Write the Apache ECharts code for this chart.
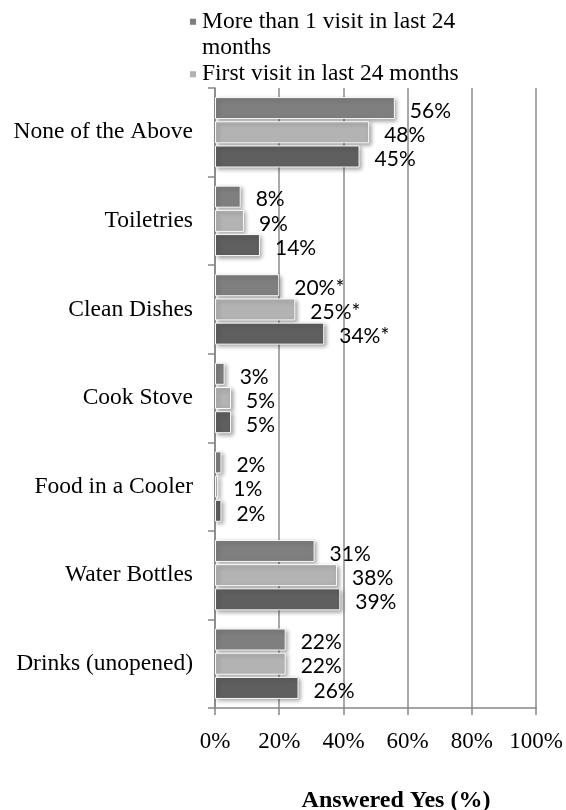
<!DOCTYPE html>
<html>
<head>
<meta charset="utf-8">
<script src="https://cdn.jsdelivr.net/npm/echarts@6/dist/echarts.min.js"></script>
<style>
html,body{margin:0;padding:0;background:#fff;}
#chart{width:566px;height:810px;}
</style>
</head>
<body>
<div id="chart"></div>
<script>
var categories = ['None of the Above', 'Toiletries', 'Clean Dishes', 'Cook Stove', 'Food in a Cooler', 'Water Bottles', 'Drinks (unopened)'];
var seriesNames = ['More than 1 visit in last 24 months', 'First visit in last 24 months', 'All visitors'];
var moreThanOnce = [56, 8, 20, 3, 2, 31, 22];
var firstVisit = [48, 9, 25, 5, 1, 38, 22];
var allVisitors = [45, 14, 34, 5, 2, 39, 26];
var starred = ['Clean Dishes'];
var xTicks = [0, 20, 40, 60, 80, 100];
var axisTitle = 'Answered Yes (%)';
var colors = ['#7f7f7f', '#b3b3b3', '#5f5f5f'];

var serif = '"Liberation Serif", "Times New Roman", serif';

function makeSeries(name, data, color) {
  return {
    name: name,
    type: 'bar',
    data: data,
    barWidth: 22,
    barGap: '10%',
    itemStyle: {
      color: color,
      borderColor: 'rgba(255,255,255,0.95)',
      borderWidth: 1,
      shadowColor: 'rgba(0,0,0,0.35)',
      shadowBlur: 4,
      shadowOffsetX: 2,
      shadowOffsetY: 2
    },
    label: {
      show: true,
      position: 'right',
      distance: 15,
      offset: [0, 3],
      fontFamily: 'Lato, "Open Sans", sans-serif',
      fontSize: 21,
      color: '#000',
      formatter: function (p) {
        return p.value + '%' + (starred.indexOf(p.name) >= 0 ? '*' : '');
      }
    }
  };
}

var chart = echarts.init(document.getElementById('chart'), null, {renderer: 'canvas'});
chart.setOption({
  animation: false,
  backgroundColor: '#fff',
  color: colors,
  grid: {left: 215, right: 29, top: 88, bottom: 102, containLabel: false},
  legend: [
    {
      data: [seriesNames[0]],
      left: 188,
      top: -18,
      padding: 0,
      icon: 'rect',
      itemWidth: 8,
      itemHeight: 8,
      formatter: function () { return '\nMore than 1 visit in last 24\nmonths'; },
      textStyle: {fontFamily: serif, fontSize: 23.5, lineHeight: 26.5, color: '#000'}
    },
    {
      data: [seriesNames[1]],
      left: 188,
      top: 61,
      padding: 0,
      icon: 'rect',
      itemWidth: 8,
      itemHeight: 8,
      textStyle: {fontFamily: serif, fontSize: 23.5, lineHeight: 26.5, color: '#000'}
    }
  ],
  xAxis: {
    type: 'value',
    min: xTicks[0],
    max: xTicks[xTicks.length - 1],
    interval: 20,
    axisLine: {show: true, lineStyle: {color: '#868686', width: 1.5}},
    axisTick: {show: true, length: 7, lineStyle: {color: '#868686', width: 1.5}},
    splitLine: {show: true, lineStyle: {color: '#8c8c8c', width: 1.5}},
    axisLabel: {
      margin: 22,
      fontFamily: serif,
      fontSize: 23,
      color: '#000',
      formatter: '{value}%'
    }
  },
  yAxis: {
    type: 'category',
    data: categories,
    inverse: true,
    axisLine: {show: true, lineStyle: {color: '#868686', width: 1.5}},
    axisTick: {show: true, length: 7, lineStyle: {color: '#868686', width: 1.5}},
    splitLine: {show: false},
    axisLabel: {
      margin: 22,
      fontFamily: serif,
      fontSize: 23.5,
      color: '#000'
    }
  },
  graphic: [{
    type: 'text',
    x: 396,
    y: 801,
    style: {
      text: axisTitle,
      textAlign: 'center',
      textVerticalAlign: 'middle',
      font: 'bold 24px ' + serif,
      fill: '#000'
    }
  }],
  series: [
    makeSeries(seriesNames[0], moreThanOnce, colors[0]),
    makeSeries(seriesNames[1], firstVisit, colors[1]),
    makeSeries(seriesNames[2], allVisitors, colors[2])
  ]
});
</script>
</body>
</html>
